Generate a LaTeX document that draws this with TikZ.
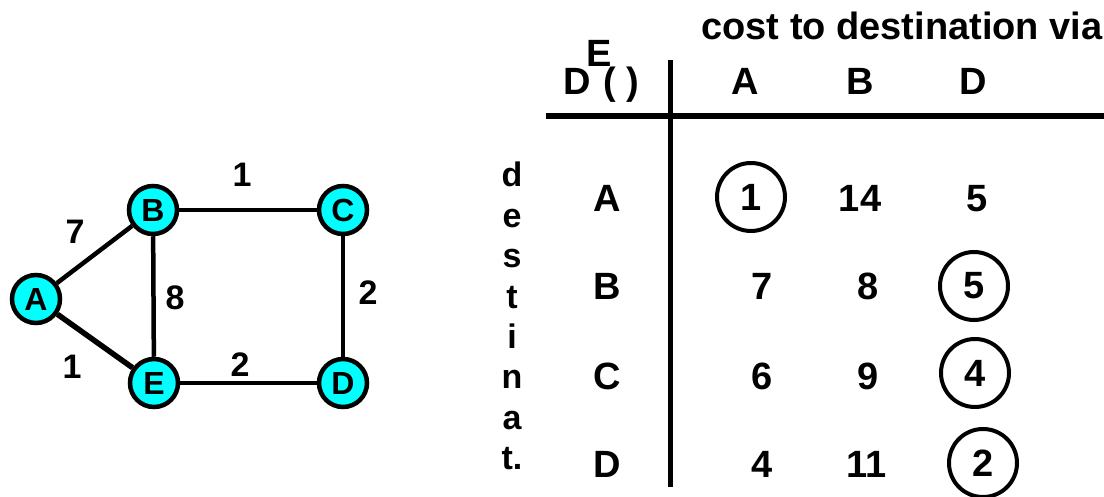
\documentclass[tikz,border=0pt]{standalone}
\usepackage{fontspec}
\setmainfont{Liberation Sans}
\usepackage{tikz}
\usetikzlibrary{positioning}
\definecolor{routercyan}{RGB}{0,255,255}

\begin{document}
\begin{tikzpicture}[x=1pt, y=-1pt,
    router/.style={draw, circle, line width=4.5pt, fill=routercyan, minimum size=48pt, inner sep=0pt, font=\fontsize{32}{34}\selectfont\bfseries},
    link/.style={line width=4.5pt},
    weight/.style={inner sep=0pt, font=\fontsize{34}{36}\selectfont\bfseries},
    cell/.style={inner sep=0pt, anchor=base, font=\fontsize{38}{40}\selectfont\bfseries},
    vword/.style={inner sep=0pt, anchor=north, align=center, font=\fontsize{34}{40.4}\selectfont\bfseries},
    pick/.style={draw, circle, line width=4pt, minimum size=68pt, inner sep=0pt, font=\fontsize{38}{40}\selectfont\bfseries},
    tabrule/.style={line width=5pt}
]
\useasboundingbox (0,0) rectangle (1104,497);

% Network
\node[router] (A) at (36,299) {A};
\node[router] (B) at (153,210) {B};
\node[router] (C) at (343,210) {C};
\node[router] (E) at (154,383) {E};
\node[router] (D) at (343,383) {D};

% Links
\draw[link] (A) -- (B);
\draw[link, line width=5.5pt] (A) -- (E);
\draw[link] (B) -- (C);
\draw[link] (B) -- (E);
\draw[link] (C) -- (D);
\draw[link] (E) -- (D);

% Link costs
\node[weight] (wAB) at (75,232) {7};
\node[weight] (wAE) at (72,367) {1};
\node[weight] (wBC) at (242,175) {1};
\node[weight] (wBE) at (175,298) {8};
\node[weight] (wCD) at (368,293) {2};
\node[weight] (wED) at (240,365) {2};

% Table header
\node[cell] (title) at (902,40) {cost to destination via};
\node[cell] (hD) at (577,95) {D};
\node[cell] (hE) at (599,67) {E};
\node[cell] (hP) at (621,95) {( )};
\node[cell] (viaA) at (745,95) {A};
\node[cell] (viaB) at (860,95) {B};
\node[cell] (viaD) at (973,95) {D};

% Table rules
\draw[tabrule] (670,60) -- (670,487);
\draw[tabrule, line width=6pt] (546,116) -- (1104,116);

% Row caption
\node[vword] (dest) at (512,162) {d\\e\\s\\t\\i\\n\\a\\t.};

% Row A
\node[cell] (toA) at (607,212) {A};
\node[pick] (aA) at (751,197) {1};
\node[cell] (aB) at (860,212) {14};
\node[cell] (aD) at (977,212) {5};

% Row B
\node[cell] (toB) at (607,300) {B};
\node[cell] (bA) at (762,300) {7};
\node[cell] (bB) at (868,300) {8};
\node[pick] (bD) at (974,286) {5};

% Row C
\node[cell] (toC) at (607,389) {C};
\node[cell] (cA) at (762,389) {6};
\node[cell] (cB) at (868,389) {9};
\node[pick] (cD) at (975,373) {4};

% Row D
\node[cell] (toD) at (607,477) {D};
\node[cell] (dA) at (762,477) {4};
\node[cell] (dB) at (867,477) {11};
\node[pick] (dD) at (983,463) {2};

\end{tikzpicture}
\end{document}
